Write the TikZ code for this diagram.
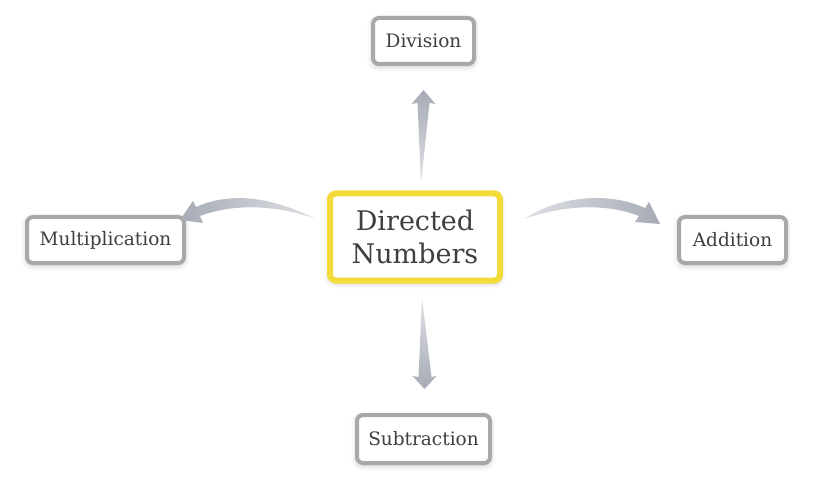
\documentclass[tikz,border=0pt]{standalone}
\usepackage{fontspec}
\setmainfont{DejaVu Serif}
\usetikzlibrary{calc,shadows.blur}

\definecolor{boxgray}{HTML}{A8A8A8}
\definecolor{dnyellow}{HTML}{F3DB3A}
\definecolor{txtgray}{HTML}{3F3F3F}
\definecolor{arrdark}{HTML}{A6ABB5}
\definecolor{arrlight}{HTML}{DFE1E5}

\tikzset{
  topic/.style={draw=boxgray, line width=4pt, rounded corners=6pt, fill=white,
    text=txtgray, font=\fontsize{18.5}{22}\selectfont, minimum height=46pt, inner xsep=4pt,
    blur shadow={shadow xshift=0pt, shadow yshift=-2pt, shadow blur radius=6pt, shadow opacity=25}},
  central/.style={topic, draw=dnyellow, line width=6pt, align=center,
    font=\fontsize{27}{33}\selectfont, minimum width=170pt, minimum height=87pt},
  fatarrow/.style={draw=none}
}

\begin{document}
\begin{tikzpicture}[x=1pt, y=-1pt]
    \useasboundingbox (0,0) rectangle (827,497);

    % nodes
    \node[central] (dn) at (415,237) {Directed\\Numbers};
    \node[topic, minimum width=101pt] (div) at (423.5,41) {Division};
    \node[topic, minimum width=157pt] (mul) at (105.5,240) {Multiplication};
    \node[topic, minimum width=107pt] (add) at (732.5,240) {Addition};
    \node[topic, minimum width=133pt, minimum height=48pt] (sub) at (423.5,439) {Subtraction};

    % arrow end points
    \coordinate (divTail) at ($(dn.north)+(6,-7)$);
    \coordinate (divTip)  at ($(div.south)+(0,24)$);
    \coordinate (subTail) at ($(dn.south)+(7,14)$);
    \coordinate (subTip)  at ($(sub.north)+(1,-24)$);
    \coordinate (mulTail) at ($(dn.west)+(-11,-18)$);
    \coordinate (mulTip)  at ($(mul.east)+(-6,-20)$);
    \coordinate (addTail) at ($(dn.east)+(21,-18)$);
    \coordinate (addTip)  at ($(add.west)+(-17,-16)$);

    % up
    \shade[fatarrow, top color=arrdark, bottom color=arrlight]
        (divTail) -- ($(divTip)+(-6,13)$) -- ($(divTip)+(-12,14)$) -- (divTip)
        -- ($(divTip)+(12,14)$) -- ($(divTip)+(6,13)$) -- cycle;

    % down
    \shade[fatarrow, top color=arrlight, bottom color=arrdark]
        (subTail) -- ($(subTip)+(-6,-12)$) -- ($(subTip)+(-12,-13)$) -- (subTip)
        -- ($(subTip)+(12,-13)$) -- ($(subTip)+(7,-12)$) -- cycle;

    % left
    \shade[fatarrow, left color=arrdark, right color=arrlight]
        (mulTail) .. controls ($(mulTail)+(-46,-23)$) and ($(mulTip)+(50,-28)$) .. ($(mulTip)+(16,-13)$)
        -- ($(mulTip)+(13,-19)$) -- (mulTip) -- ($(mulTip)+(23,3)$) -- ($(mulTip)+(20,-4)$)
        .. controls ($(mulTip)+(55,-17)$) and ($(mulTail)+(-40,-14)$) .. (mulTail) -- cycle;

    % right
    \shade[fatarrow, left color=arrlight, right color=arrdark]
        (addTail) .. controls ($(addTail)+(36,-24)$) and ($(addTip)+(-50,-32)$) .. ($(addTip)+(-15,-16)$)
        -- ($(addTip)+(-11,-22)$) -- (addTip) -- ($(addTip)+(-25,-2)$) -- ($(addTip)+(-21,-8)$)
        .. controls ($(addTip)+(-55,-21)$) and ($(addTail)+(41,-14)$) .. (addTail) -- cycle;
\end{tikzpicture}
\end{document}
